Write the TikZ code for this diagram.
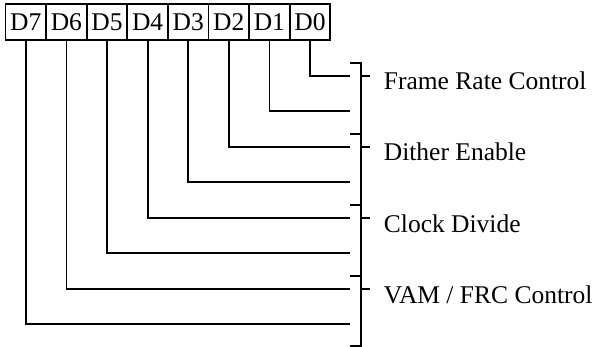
\documentclass[tikz,border=0pt]{standalone}
\usepackage{fontspec}
\setmainfont{Liberation Serif}
\begin{document}
\begin{tikzpicture}[x=1pt,y=-1pt,
  line width=1.8pt, line cap=rect,
  cell/.style={draw, line width=1.8pt, minimum width=40.6pt, minimum height=35.5pt, inner sep=0pt, font=\fontsize{25.5}{30}\selectfont},
  lbl/.style={anchor=base west, inner sep=0pt, font=\fontsize{25.5}{30}\selectfont},
  wire/.style={line width=1.8pt, line cap=butt}]
\useasboundingbox (0,0) rectangle (604,347);
% bit cells
\foreach \n [count=\i from 0] in {7,6,5,4,3,2,1,0} {
  \node[cell] (d\n) at ({25.8+40.6*\i},22) {D\n};
}
% wire end points
\foreach \n/\y in {0/75.7,1/111.2,2/146.7,3/182.2,4/217.7,5/253.2,6/288.7,7/324.2} {
  \coordinate (e\n) at (350,\y);
}
\foreach \n in {0,...,7} {
  \draw[wire] (d\n.south) |- (e\n);
}
% bracket
\coordinate (btop) at (361,63.3);
\coordinate (bbot) at (361,346);
\draw[wire] (btop) -- (bbot);
\foreach \y in {63.3,134.3,205.3,276.3,346} {
  \draw[wire] (350,\y) -- (362,\y);
}
\foreach \y in {75.7,146.7,217.7,288.7} {
  \draw[wire] (361,\y) -- (370,\y);
}
% labels
\node[lbl] (l1) at (383,90) {Frame Rate Control};
\node[lbl] (l2) at (383,161) {Dither Enable};
\node[lbl] (l3) at (383,232) {Clock Divide};
\node[lbl] (l4) at (383,303) {VAM / FRC Control};
\end{tikzpicture}
\end{document}
